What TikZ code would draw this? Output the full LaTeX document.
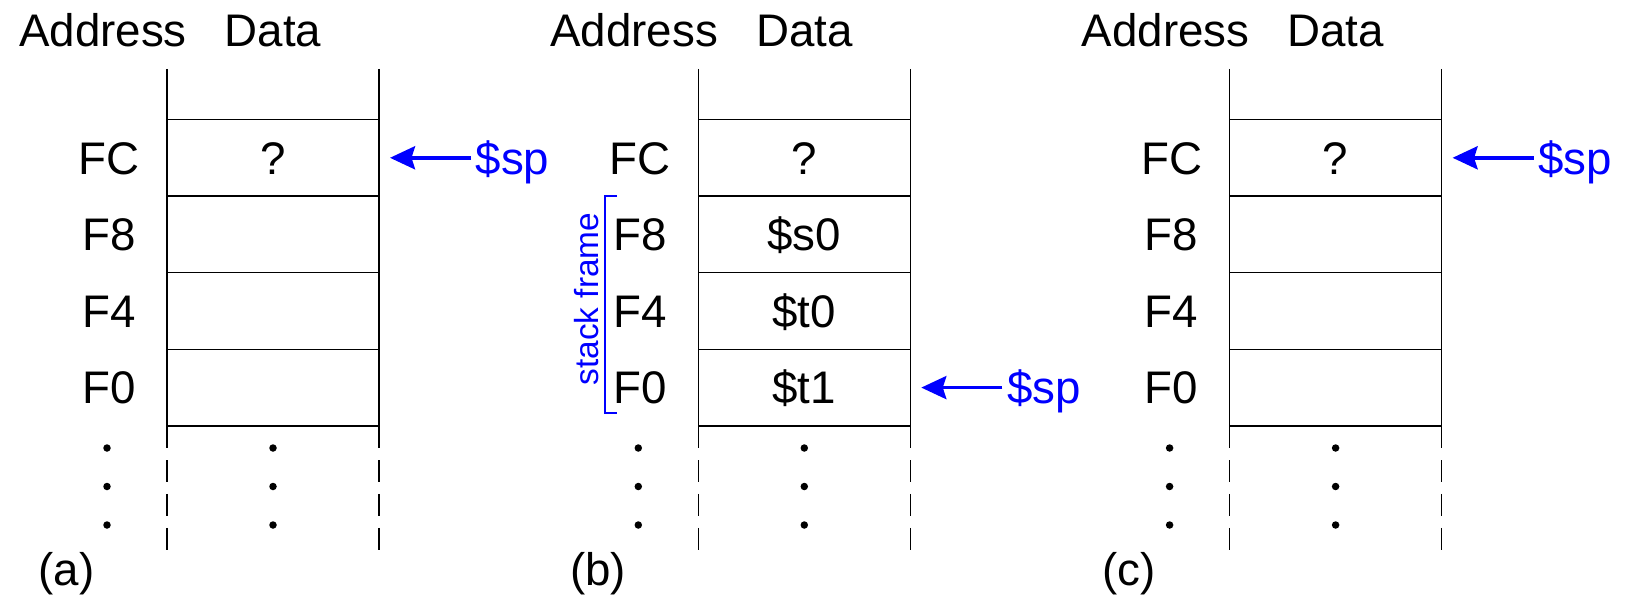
\documentclass[tikz,border=0pt]{standalone}
\usepackage{fontspec}
\setmainfont{Liberation Sans}
\usetikzlibrary{arrows.meta}
\tikzset{
  cell/.style={text height=18.6pt, text depth=0pt, inner sep=0pt, font=\fontsize{26}{30}\selectfont},
  sptext/.style={cell, blue, inner xsep=0.08cm, anchor=west},
  sppoint/.style={-{Stealth[length=0.5cm, width=0.46cm, inset=0.07cm]}, line width=2.1pt, blue},
  stub/.style={dash pattern=on 0.44cm off 0.24cm}
}
\begin{document}
\begin{tikzpicture}[x=0.02cm, y=-0.02cm, line width=0.85pt]
\useasboundingbox (0,0) rectangle (1627,598);
\foreach \o/\p in {0/a, 531.3/b, 1062.6/c}{
  \node[cell] (adr-\p) at (\o+103,30) {Address};
  \node[cell] (dat-\p) at (\o+273,30) {Data};
  \draw (\o+167,69)--(\o+167,448);  \draw (\o+379,69)--(\o+379,448);
  \draw[stub] (\o+167,460)--(\o+167,552);  \draw[stub] (\o+379,460)--(\o+379,552);
  \foreach \y in {119.5,196.1,272.7,349.3,425.9} \draw (\o+167,\y)--(\o+379,\y);
  \foreach \y/\t in {157.8/FC,234.4/F8,311/F4,387.6/F0} \node[cell] (\t-\p) at (\o+109,\y) {\t};
  \node[cell] (q-\p) at (\o+273,157.8) {?};
  \foreach \y in {448,486.5,525} {\fill (\o+107,\y) circle (0.075cm); \fill (\o+273,\y) circle (0.075cm);}
  \node[cell, anchor=base] (lbl-\p) at (\o+66.7,585) {(\p)};
}
% contents of (b)
\node[cell] (s0-b) at (804.3,234.4) {\$s0};
\node[cell] (t0-b) at (804.3,311) {\$t0};
\node[cell] (t1-b) at (804.3,387.6) {\$t1};
\draw[blue, line width=0.7pt] (617,196.1)--(605,196.1)--(605,413)--(617,413);
\node[rotate=90, blue, font=\fontsize{19}{22}\selectfont] (frame-b) at (586.5,299) {stack frame};
% stack pointers
\coordinate (tip-a) at (390,157.8);
\coordinate (tip-b) at (921.3,387.6);
\coordinate (tip-c) at (1452.6,157.8);
\node[sptext] (sp-a) at (471,157.8) {\$sp};
\node[sptext] (sp-b) at (1002.3,387.6) {\$sp};
\node[sptext] (sp-c) at (1533.6,157.8) {\$sp};
\draw[sppoint] (sp-a)--(tip-a);
\draw[sppoint] (sp-b)--(tip-b);
\draw[sppoint] (sp-c)--(tip-c);
\end{tikzpicture}
\end{document}
